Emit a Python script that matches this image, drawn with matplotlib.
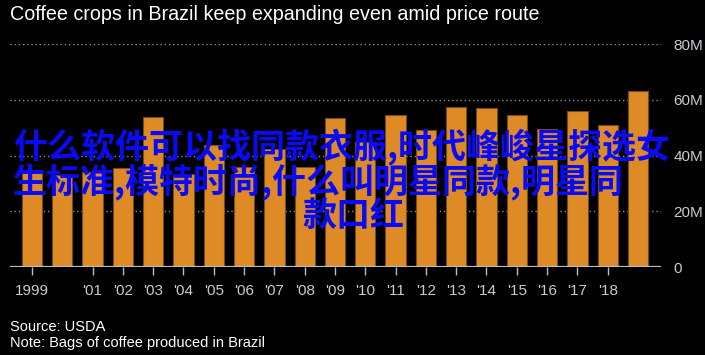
"""
Brazil coffee crop bar chart, dark theme.
"""

import matplotlib
matplotlib.use("Agg")
import matplotlib.pyplot as plt
from matplotlib import font_manager

years = list(range(1999, 2020))
bags_m = [35.0, 33.0, 34.3, 35.5, 53.7, 33.4, 43.8, 36.0, 42.5, 36.1, 53.4,
          44.8, 54.6, 49.2, 57.6, 57.2, 54.6, 49.5, 56.1, 51.0, 63.3]
tick_years = [1999] + list(range(2001, 2019))
tick_labels = ["1999"] + [f"'{y % 100:02d}" for y in range(2001, 2019)]
y_ticks = [0, 20, 40, 60, 80]
y_labels = ["0", "20M", "40M", "60M", "80M"]

title = "Coffee crops in Brazil keep expanding even amid price route"
source = "Source: USDA"
note = "Note: Bags of coffee produced in Brazil"
overlay = ["什么软件可以找同款衣服,时代峰峻星探选女",
           "生标准,模特时尚,什么叫明星同款,明星同",
           "款口红"]

names = {f.name for f in font_manager.fontManager.ttflist}
narrow = "Liberation Sans Narrow" if "Liberation Sans Narrow" in names else "Liberation Sans"

BAR = "#de8b27"
LABEL = "#c8ccd2"

fig = plt.figure(figsize=(7.05, 3.55), dpi=100, facecolor="black")
ax = fig.add_axes([10 / 705, 1 - 267.3 / 355, 651 / 705, 223.3 / 355])
ax.set_facecolor("black")

xs = [y - 1999 for y in years]
ax.bar(xs, bags_m, width=0.67, color=BAR, edgecolor="#7a4d14", linewidth=0.8, zorder=2)

ax.set_xlim(-0.726, 20.76)
ax.set_ylim(0, 80)

for v in y_ticks[1:]:
  ax.axhline(v, color="#8a8a8a", linestyle=(0, (1, 2)), linewidth=1.0, zorder=1)
ax.axhline(0, color="#bdbdbd", linewidth=1.6, zorder=3)

for side in ax.spines.values():
  side.set_visible(False)

ax.set_xticks([y - 1999 for y in tick_years])
ax.set_xticklabels(tick_labels, fontfamily=narrow, fontsize=11, color=LABEL)
ax.tick_params(axis="x", length=6, width=1, color="#bdbdbd", pad=6)

ax.yaxis.tick_right()
ax.set_yticks(y_ticks)
ax.set_yticklabels(y_labels, fontfamily=narrow, fontsize=11, color=LABEL)
ax.tick_params(axis="y", length=0, pad=9)

fig.text(10 / 705, 1 - 15 / 355, title, fontfamily=narrow, fontsize=14.2,
         color="white", va="center", ha="left")
fig.text(10 / 705, 1 - 327 / 355, source, fontfamily=narrow, fontsize=10.5,
         color="white", va="center", ha="left")
fig.text(10 / 705, 1 - 343 / 355, note, fontfamily=narrow, fontsize=10.5,
         color="white", va="center", ha="left")

cjk = ["Noto Sans CJK SC", "DejaVu Sans"]
for line, (x, y) in zip(overlay, [(13, 147), (13, 181.5), (302, 215)]):
  fig.text(x / 705, 1 - y / 355, line, family=cjk, fontsize=24.5, fontweight="bold",
           color="#0a0af5", va="center", ha="left", zorder=10)

fig.savefig("out.png", dpi=100, facecolor="black")
